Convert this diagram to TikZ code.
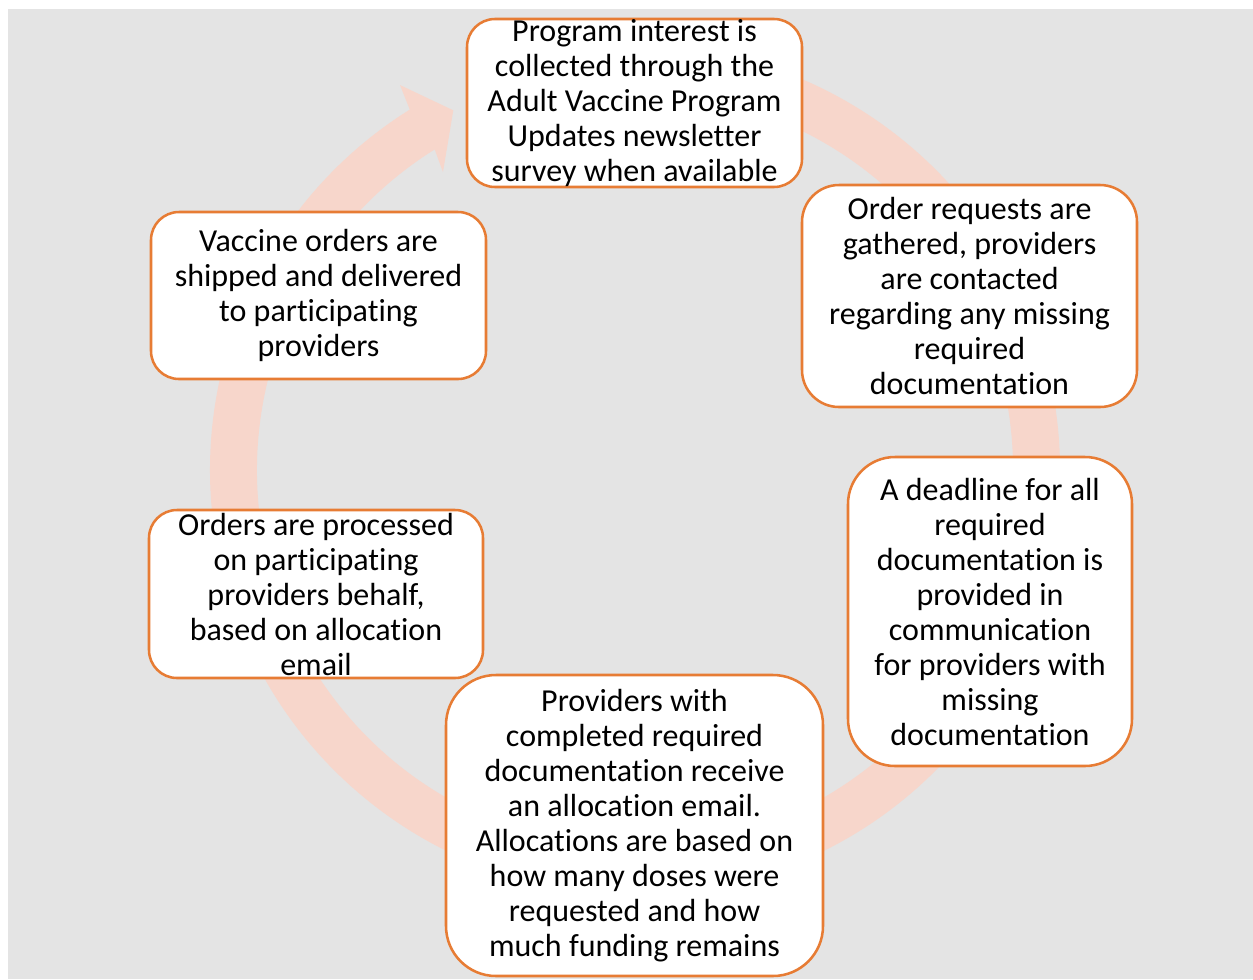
\documentclass[tikz,border=0pt]{standalone}
\usepackage{fontspec}
\setmainfont{Carlito}[Ligatures=NoCommon]
\definecolor{bggray}{RGB}{228,228,228}
\definecolor{ringc}{RGB}{247,214,203}
\definecolor{boxorange}{RGB}{231,124,52}
\tikzset{
  stepbox/.style n args={3}{draw=boxorange, line width=1.9pt, fill=white,
    minimum width=#1, minimum height=#2, rounded corners=#3, inner sep=0pt},
  steptext/.style={align=center, inner sep=0pt,
    font=\fontsize{24}{26.25}\selectfont}
}
\begin{document}
\begin{tikzpicture}[x=0.75pt, y=0.75pt]
\useasboundingbox (0,0) rectangle (1253,-979);
\fill[white] (0,0) rectangle (1253,-979);
\fill[bggray] (8,-9) rectangle (1253,-979);
\coordinate (C) at (635,-470);
% circular arrow
\fill[ringc] ([shift={(100:425)}]C) arc[start angle=100, end angle=-238, radius=425]
  -- ([shift={(-238.6:451)}]C) -- ([shift={(-243.2:403)}]C)
  -- ([shift={(-237.2:354.5)}]C) -- ([shift={(-238:378)}]C)
  arc[start angle=-238, end angle=100, radius=378] -- cycle;
% boxes
\node[stepbox={251.25pt}{126pt}{21pt}] (b1) at (634.5,-103) {};
\node[stepbox={251.25pt}{166.5pt}{27.75pt}] (b2) at (969.5,-296) {};
\node[stepbox={213pt}{231.75pt}{35.25pt}] (b3) at (990,-611.5) {};
\node[stepbox={282.75pt}{225.75pt}{37.5pt}] (b4) at (634.5,-825.5) {};
\node[stepbox={250.5pt}{126pt}{21pt}] (b5) at (316,-594) {};
\node[stepbox={251.25pt}{125.25pt}{21pt}] (b6) at (318.5,-295.5) {};
% texts
\node[steptext] (t1) at (b1) {Program interest is\\collected through the\\Adult Vaccine Program\\Updates newsletter\\survey when available};
\node[steptext] (t2) at (b2) {Order requests are\\gathered, providers\\are contacted\\regarding any missing\\required\\documentation};
\node[steptext] (t3) at (b3) {A deadline for all\\required\\documentation is\\provided in\\communication\\for providers with\\missing\\documentation};
\node[steptext] (t4) at (b4) {Providers with\\completed required\\documentation receive\\an allocation email.\\Allocations are based on\\how many doses were\\requested and how\\much funding remains};
\node[steptext] (t5) at (b5) {Orders are processed\\on participating\\providers behalf,\\based on allocation\\email};
\node[steptext] (t6) at (b6) {Vaccine orders are\\shipped and delivered\\to participating\\providers};
\end{tikzpicture}
\end{document}
